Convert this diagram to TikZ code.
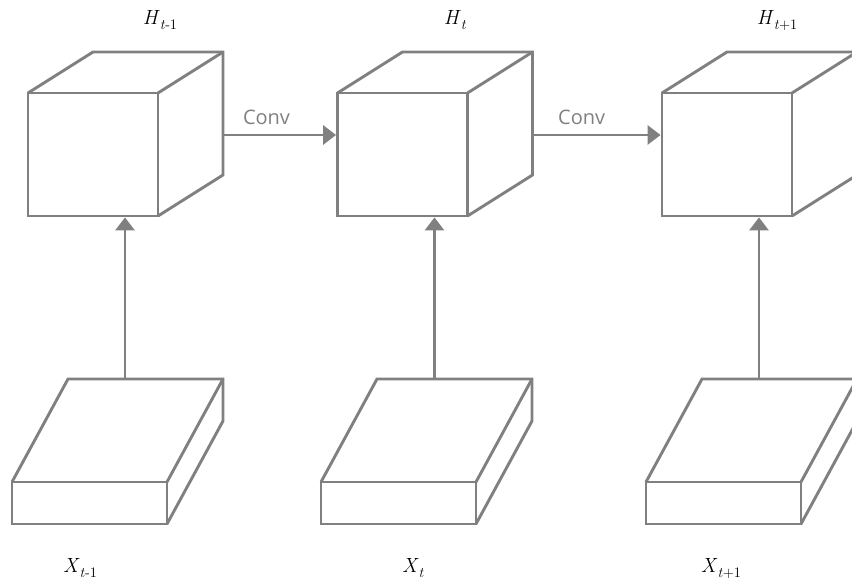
\documentclass[tikz,border=0pt]{standalone}
\usepackage{amsmath}
\usepackage{fontspec}
\newfontfamily\convfont{Open Sans}
\usetikzlibrary{arrows.meta}
\definecolor{edgegray}{HTML}{808080}
\newcommand{\lblsub}[1]{\raisebox{-5pt}{\fontsize{14.5}{16}\selectfont #1}}

\begin{document}
\begin{tikzpicture}[x=1pt, y=-1pt, line width=2.9pt,
	face/.style={draw=edgegray, inner sep=0pt, outer sep=0pt},
	hface/.style={face, minimum width=130pt, minimum height=123pt},
	xface/.style={face, minimum width=155pt, minimum height=42pt},
	edge/.style={draw=edgegray, line join=miter},
	conn/.style={draw=edgegray, -{Triangle[length=13pt,width=19pt]}, shorten >=1.4pt},
	lbl/.style={anchor=base, inner sep=0pt, font=\fontsize{20.5}{22}\selectfont},
	convlbl/.style={inner sep=0pt, font=\convfont\fontsize{20}{22}\selectfont, text=edgegray}]
	\clip (0,0) rectangle (852,586);
	% hidden-state cubes
	\node[hface] (h1) at (93,154.5) {};
	\draw[edge] (h1.north west) -- ++(65,-41) -- ++(130,0) coordinate (h1back) -- ++(0,123) -- (h1.south east);
	\draw[edge] (h1.north east) -- (h1back);
	\node[hface] (h2) at (402.5,154.5) {};
	\draw[edge] (h2.north west) -- ++(65,-41) -- ++(130,0) coordinate (h2back) -- ++(0,123) -- (h2.south east);
	\draw[edge] (h2.north east) -- (h2back);
	\node[hface] (h3) at (727,154.5) {};
	\draw[edge] (h3.north west) -- ++(65,-41) -- ++(130,0) coordinate (h3back) -- ++(0,123) -- (h3.south east);
	\draw[edge] (h3.north east) -- (h3back);
	\path (h1back) ++(0,83) coordinate (h1out);
	\path (h2back) ++(0,83) coordinate (h2out);
	\path (h1.south west) ++(97,0) coordinate (h1in);
	\path (h2.south west) ++(97,0) coordinate (h2in);
	\path (h3.south west) ++(97,0) coordinate (h3in);
	
	% input slabs
	\node[xface] (x1) at (89.5,503) {};
	\draw[edge] (x1.north west) -- ++(56,-103) coordinate (x1back) -- ++(155,0) -- ++(0,42) -- (x1.south east);
	\draw[edge] (x1.north east) -- ++(56,-103);
	\node[xface] (x2) at (398.5,503) {};
	\draw[edge] (x2.north west) -- ++(56,-103) coordinate (x2back) -- ++(155,0) -- ++(0,42) -- (x2.south east);
	\draw[edge] (x2.north east) -- ++(56,-103);
	\node[xface] (x3) at (723.5,503) {};
	\draw[edge] (x3.north west) -- ++(56,-103) coordinate (x3back) -- ++(155,0) -- ++(0,42) -- (x3.south east);
	\draw[edge] (x3.north east) -- ++(56,-103);
	
	% connections
	\draw[conn] (h1out) -- (h1out -| h2.west) node[convlbl, pos=0.38, above=9pt] {Conv};
	\draw[conn] (h2out) -- (h2out -| h3.west) node[convlbl, pos=0.38, above=9pt] {Conv};
	\draw[conn] (x1back -| h1in) -- (h1in);
	\draw[conn] (x2back -| h2in) -- (h2in);
	\draw[conn] (x3back -| h3in) -- (h3in);
	
	% labels
	\node[lbl] (lh1) at (160,25) {\textit{H}\lblsub{\textit{t}-1}};
	\node[lbl] (lh2) at (455,25) {\textit{H}\lblsub{\textit{t}}};
	\node[lbl] (lh3) at (777,25) {\textit{H}\lblsub{\textit{t}+1}};
	\node[lbl] (lx1) at (80,572) {\textit{X}\lblsub{\textit{t}-1}};
	\node[lbl] (lx2) at (413,572) {\textit{X}\lblsub{\textit{t}}};
	\node[lbl] (lx3) at (721,572) {\textit{X}\lblsub{\textit{t}+1}};
\end{tikzpicture}
\end{document}
